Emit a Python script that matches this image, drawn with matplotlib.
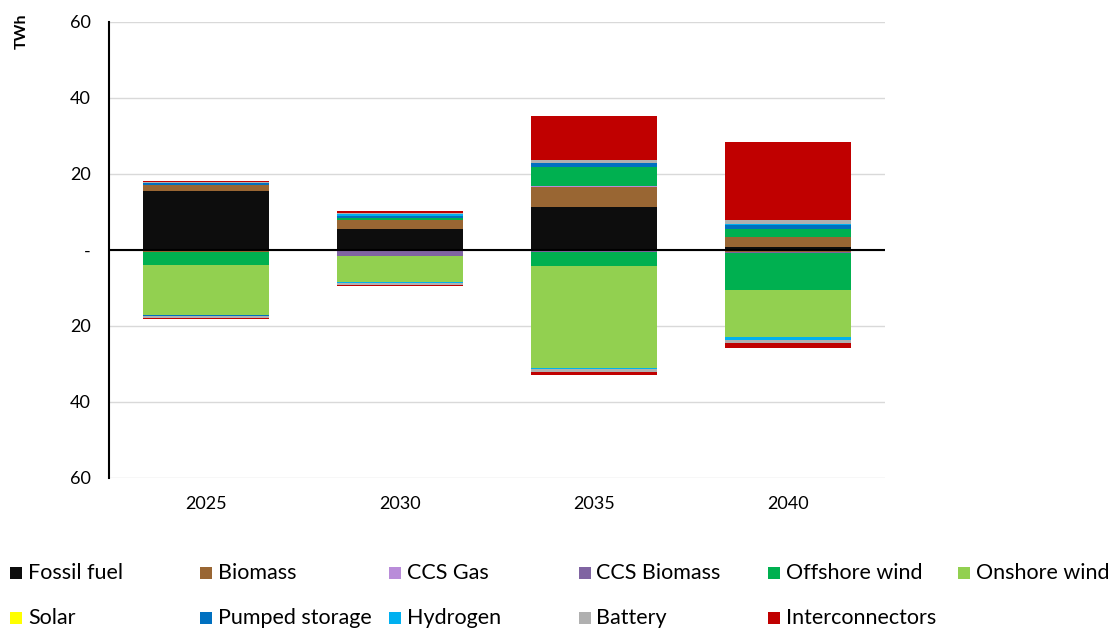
import numpy as np
import matplotlib.pyplot as plt
from matplotlib.patches import Rectangle

plt.rcParams['font.family'] = ['Lato', 'DejaVu Sans']

years = ["2025", "2030", "2035", "2040"]
techs = ["Fossil fuel", "Biomass", "CCS Gas", "CCS Biomass", "Offshore wind", "Onshore wind",
         "Solar", "Pumped storage", "Hydrogen", "Battery", "Interconnectors"]
colors = ["#0d0d0d", "#996633", "#b98cd9", "#8064a2", "#00b050", "#92d050",
          "#ffff00", "#0070c0", "#00b0f0", "#b0b0b0", "#c00000"]

# TWh per technology, one value per year (gains above zero, losses below)
fossil_pos   = [15.6, 5.6, 11.4, 0.8]
biomass_pos  = [1.5, 2.3, 5.1, 2.6]
ccsgas_pos   = [0.0, 0.0, 0.3, 0.0]
ccsbio_pos   = [0.0, 0.0, 0.0, 0.0]
offshore_pos = [0.0, 0.5, 5.0, 2.1]
onshore_pos  = [0.0, 0.0, 0.0, 0.0]
solar_pos    = [0.0, 0.0, 0.0, 0.0]
pumped_pos   = [0.4, 0.5, 1.1, 1.0]
hydrogen_pos = [0.2, 0.5, 0.0, 0.4]
battery_pos  = [0.2, 0.3, 0.9, 0.9]
inter_pos    = [0.3, 0.6, 11.4, 20.6]

fossil_neg   = [0.0, 0.0, 0.0, 0.0]
biomass_neg  = [-0.5, 0.0, 0.0, -0.6]
ccsgas_neg   = [0.0, 0.0, 0.0, 0.0]
ccsbio_neg   = [0.0, -1.5, -0.6, -0.3]
offshore_neg = [-3.4, 0.0, -3.6, -9.6]
onshore_neg  = [-13.3, -7.0, -26.8, -12.5]
solar_neg    = [0.0, 0.0, 0.0, 0.0]
pumped_neg   = [-0.3, 0.0, 0.0, 0.0]
hydrogen_neg = [0.0, -0.3, -0.4, -0.6]
battery_neg  = [-0.3, -0.5, -0.7, -1.0]
inter_neg    = [-0.3, -0.3, -0.8, -1.3]

pos = [fossil_pos, biomass_pos, ccsgas_pos, ccsbio_pos, offshore_pos, onshore_pos,
       solar_pos, pumped_pos, hydrogen_pos, battery_pos, inter_pos]
neg = [fossil_neg, biomass_neg, ccsgas_neg, ccsbio_neg, offshore_neg, onshore_neg,
       solar_neg, pumped_neg, hydrogen_neg, battery_neg, inter_neg]

fig = plt.figure(figsize=(11.12, 6.28), dpi=100)
ax = fig.add_axes([0.098, 0.239, 0.698, 0.726])

x = np.arange(len(years))
bottom_p = np.zeros(len(years))
bottom_n = np.zeros(len(years))
for i in range(len(techs)):
    p = np.array(pos[i])
    n = np.array(neg[i])
    ax.bar(x, p, 0.65, bottom=bottom_p, color=colors[i], edgecolor="none", zorder=2)
    ax.bar(x, n, 0.65, bottom=bottom_n, color=colors[i], edgecolor="none", zorder=2)
    bottom_p += p
    bottom_n += n

ax.set_xlim(-0.5, 3.5)
ax.set_ylim(-60, 60)
ticks = [-60, -40, -20, 0, 20, 40, 60]
ax.set_yticks(ticks)
ax.set_yticklabels(["60", "40", "20", "-", "20", "40", "60"], fontsize=13)
ax.set_xticks(x)
ax.set_xticklabels(years, fontsize=13)
ax.tick_params(axis="y", length=0, pad=13)
ax.tick_params(axis="x", length=0, pad=13)
ax.grid(axis="y", color="#d9d9d9", linewidth=1, zorder=0)
ax.axhline(0, color="black", linewidth=1.5, zorder=3)
for s in ["top", "right", "bottom"]:
    ax.spines[s].set_visible(False)
ax.spines["left"].set_linewidth(1.5)
ax.spines["left"].set_zorder(4)

fig.text(0.02, 0.95, "TWh", rotation=90, fontsize=11.5, fontweight="bold", ha="center", va="center")

# legend, 6 columns across the bottom
for i, (t, c) in enumerate(zip(techs, colors)):
    col, row = i % 6, i // 6
    lx = 10 + col * 189.5
    ly = 573 + row * 45
    fig.patches.append(Rectangle((lx / 1112, 1 - (ly + 6) / 628), 12 / 1112, 12 / 628,
                                 transform=fig.transFigure, facecolor=c, edgecolor="none"))
    fig.text((lx + 18) / 1112, 1 - ly / 628, t, fontsize=15.5, va="center", ha="left")

fig.savefig("out.png", dpi=100)
